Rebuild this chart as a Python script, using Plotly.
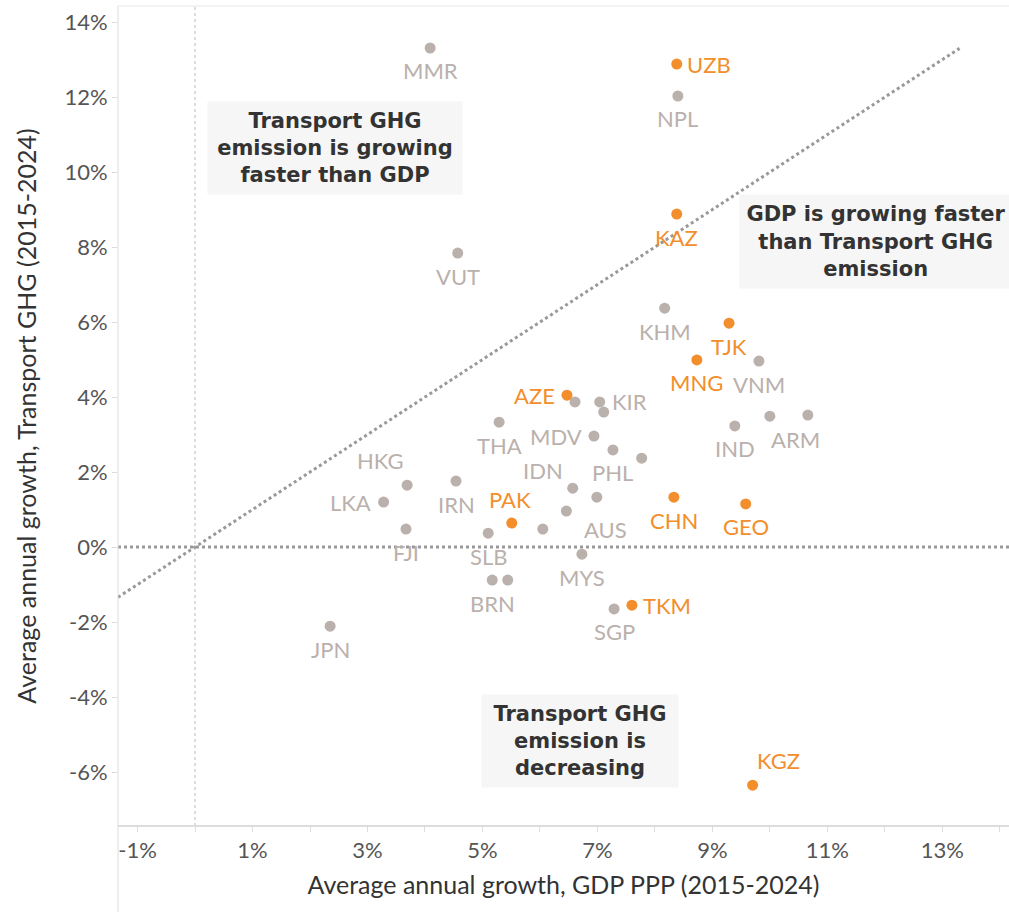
import plotly.graph_objects as go

# Average annual growth 2015-2024 (%), x = GDP PPP, y = transport GHG
gray_names = ["MMR", "NPL", "VUT", "KHM", "VNM", "KIR", "", "", "THA", "MDV",
              "PHL", "IDN", "", "AUS", "", "HKG", "IRN", "LKA", "FJI", "SLB",
              "", "MYS", "BRN", "", "SGP", "JPN", "IND", "", "ARM"]
gray_gdp = [4.09, 8.40, 4.57, 8.17, 9.81, 7.04, 6.61, 7.11, 5.29, 6.94,
            7.27, 6.57, 7.77, 6.99, 6.46, 3.69, 4.54, 3.28, 3.67, 5.10,
            6.05, 6.73, 5.17, 5.44, 7.29, 2.35, 9.39, 10.00, 10.66]
gray_ghg = [13.31, 12.03, 7.84, 6.37, 4.96, 3.87, 3.87, 3.60, 3.33, 2.96,
            2.59, 1.57, 2.37, 1.33, 0.96, 1.65, 1.76, 1.20, 0.48, 0.37,
            0.48, -0.19, -0.88, -0.88, -1.65, -2.11, 3.23, 3.49, 3.52]

orange_names = ["UZB", "KAZ", "TJK", "MNG", "AZE", "PAK", "CHN", "GEO", "TKM", "KGZ"]
orange_gdp = [8.38, 8.38, 9.29, 8.73, 6.47, 5.51, 8.33, 9.58, 7.60, 9.70]
orange_ghg = [12.88, 8.88, 5.97, 4.99, 4.05, 0.64, 1.33, 1.15, -1.55, -6.35]

x_ticks = [-1, 1, 3, 5, 7, 9, 11, 13]
y_ticks = [-6, -4, -2, 0, 2, 4, 6, 8, 10, 12, 14]

# label offsets in pixels (dx, dy) relative to the point, dy up
BELOW = (0, -23)
gray_offsets = [BELOW, BELOW, BELOW, BELOW, BELOW, (30, 0), None, None, BELOW, (-38, 0),
                BELOW, (-30, 18), None, (9, -32), None, (-27, 25), BELOW, (-33, 0), BELOW, BELOW,
                None, BELOW, BELOW, None, BELOW, BELOW, BELOW, None, (-12, -24)]
orange_offsets = [(32, 0), BELOW, BELOW, BELOW, (-32, 0), (-2, 24), BELOW, BELOW, (35, 0), (26, 25)]

GRAY = "#bab0ac"
ORANGE = "#f28e2b"
FONT = "Lato"

fig = go.Figure()

# y = x reference line
fig.add_trace(go.Scatter(x=[-1.34, 13.3], y=[-1.34, 13.3], mode="lines",
                         line=dict(color="#999999", width=3, dash="dot"),
                         hoverinfo="skip", showlegend=False))

fig.add_trace(go.Scatter(x=gray_gdp, y=gray_ghg, mode="markers",
                         marker=dict(color=GRAY, size=11), showlegend=False,
                         text=gray_names))
fig.add_trace(go.Scatter(x=orange_gdp, y=orange_ghg, mode="markers",
                         marker=dict(color=ORANGE, size=11), showlegend=False,
                         text=orange_names))

annotations = []
for names, xs, ys, offs, col in [(gray_names, gray_gdp, gray_ghg, gray_offsets, GRAY),
                                 (orange_names, orange_gdp, orange_ghg, orange_offsets, ORANGE)]:
    for n, x, y, off in zip(names, xs, ys, offs):
        if not n:
            continue
        annotations.append(dict(x=x, y=y, text=n, showarrow=False,
                                xshift=off[0], yshift=off[1],
                                font=dict(family=FONT, size=22, color=col)))

box_font = dict(family="DejaVu Sans", size=21, color="#333333", weight="bold")
annotations += [
    dict(x=2.43, y=10.64, text="Transport GHG<br>emission is growing<br>faster than GDP",
         showarrow=False, bgcolor="#f6f6f6", width=244, height=82, borderpad=5,
         align="center", font=box_font),
    dict(x=11.85, y=8.16, text="GDP is growing faster<br>than Transport GHG<br>emission",
         showarrow=False, bgcolor="#f6f6f6", width=262, height=83, borderpad=5,
         align="center", font=box_font),
    dict(x=6.70, y=-5.17, text="Transport GHG<br>emission is<br>decreasing",
         showarrow=False, bgcolor="#f6f6f6", width=186, height=82, borderpad=5,
         align="center", font=box_font),
]

shapes = [
    dict(type="line", xref="x", yref="paper", x0=0, x1=0, y0=0, y1=1,
         line=dict(color="#bbbbbb", width=1, dash="dot"), layer="below"),
    dict(type="line", xref="paper", yref="y", x0=0, x1=1, y0=0, y1=0,
         line=dict(color="#999999", width=3, dash="dot"), layer="below"),
    # pane borders
    dict(type="line", xref="paper", yref="paper", x0=0, x1=0, y0=-0.105, y1=1,
         line=dict(color="#dddddd", width=1)),
    dict(type="line", xref="paper", yref="paper", x0=0, x1=1, y0=0, y1=0,
         line=dict(color="#dddddd", width=2)),
    dict(type="line", xref="paper", yref="paper", x0=0, x1=1, y0=1, y1=1,
         line=dict(color="#e6e6e6", width=1)),
]

fig.update_layout(
    width=1009, height=912,
    margin=dict(l=118, r=0, t=6, b=86),
    paper_bgcolor="white", plot_bgcolor="white",
    annotations=annotations, shapes=shapes,
    xaxis=dict(range=[-1.34, 14.16], tickvals=x_ticks,
               ticktext=[f"{v}%" for v in x_ticks],
               showgrid=False, zeroline=False, showline=False,
               ticks="outside", ticklen=5, tickcolor="#dddddd",
               minor=dict(dtick=1, tick0=0, ticks="outside", ticklen=5, tickcolor="#dddddd"),
               tickfont=dict(family=FONT, size=22, color="#555555"),
               title=dict(text="Average annual growth, GDP PPP (2015-2024)", standoff=14,
                          font=dict(family=FONT, size=25, color="#333333"))),
    yaxis=dict(range=[-7.44, 14.43], tickvals=y_ticks,
               ticktext=[f"{v}%" for v in y_ticks],
               showgrid=False, zeroline=False, showline=False,
               ticks="outside", ticklen=5, tickcolor="#dddddd",
               tickfont=dict(family=FONT, size=22, color="#555555"),
               title=dict(text="Average annual growth, Transport GHG (2015-2024)", standoff=20,
                          font=dict(family=FONT, size=25, color="#333333"))),
)

fig.write_html("out.html", config={"displayModeBar": False},
               post_script="document.body.style.margin='0';")
